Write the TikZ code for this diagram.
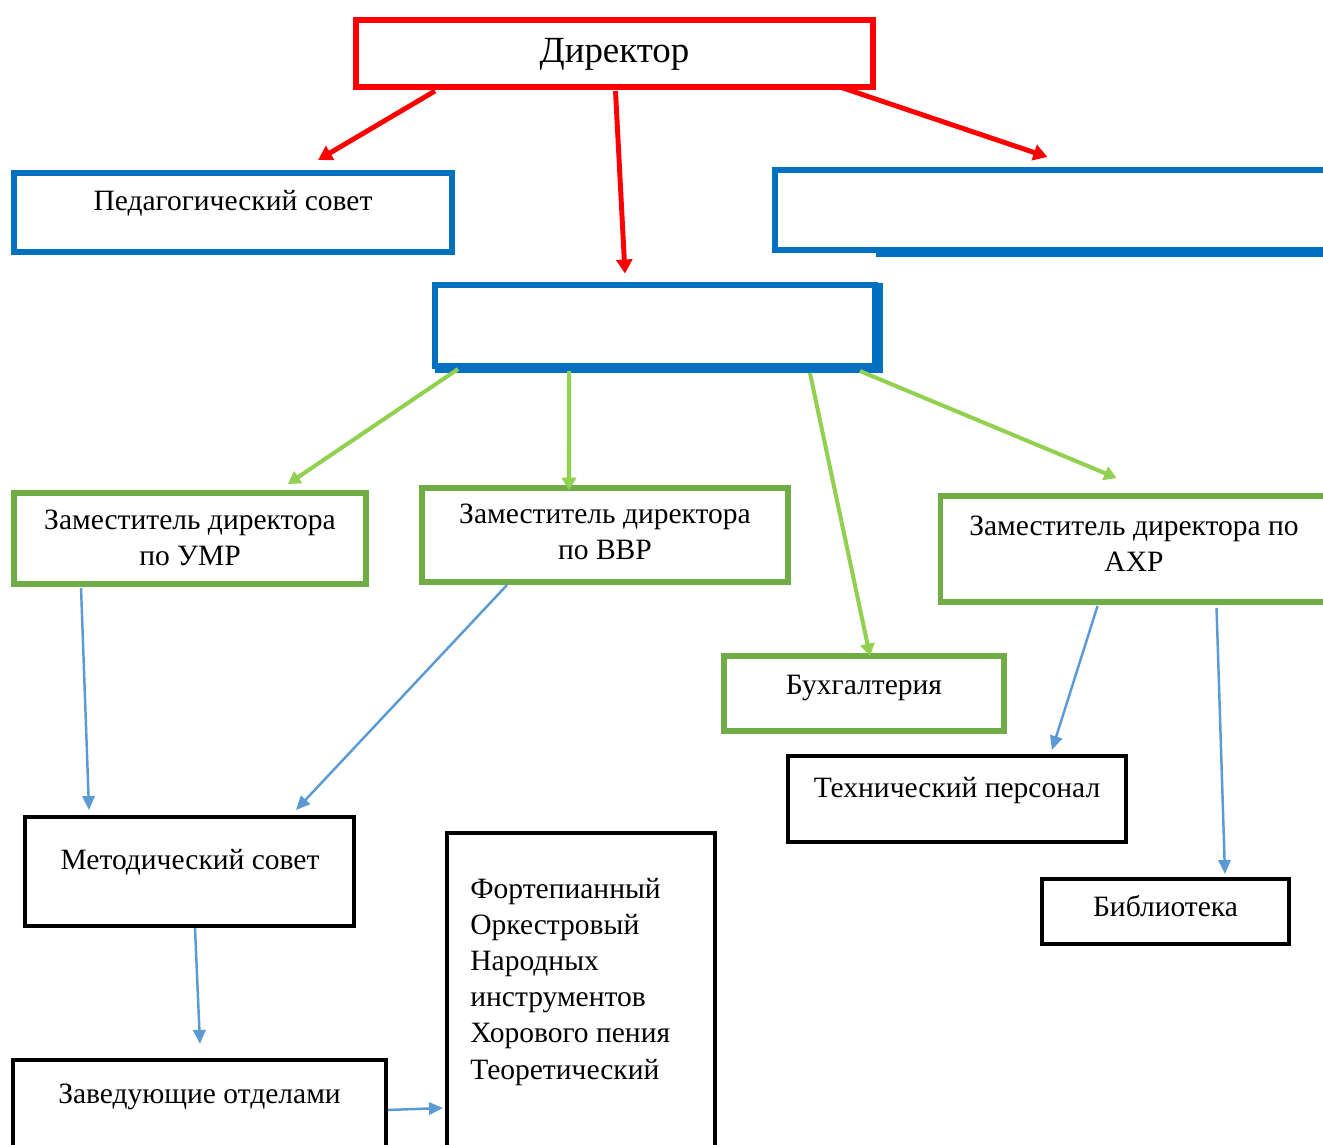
\documentclass[tikz,border=0pt]{standalone}
\usepackage{fontspec}
\setmainfont{Liberation Serif}
\usetikzlibrary{arrows.meta,calc}
\definecolor{cred}{RGB}{255,0,0}
\definecolor{cblue}{RGB}{0,112,192}
\definecolor{cgreen}{RGB}{112,173,71}
\definecolor{cgarrow}{RGB}{146,208,80}
\definecolor{cbarrow}{RGB}{91,155,213}
\begin{document}
\begin{tikzpicture}[x=0.02cm,y=-0.02cm,
  redbox/.style={draw=cred,line width=3.4pt,inner sep=0pt,outer sep=0pt},
  bluebox/.style={draw=cblue,line width=3.4pt,inner sep=0pt,outer sep=0pt},
  greenbox/.style={draw=cgreen,line width=2.9pt,inner sep=0pt,outer sep=0pt},
  blackbox/.style={draw=black,line width=2.3pt,inner sep=0pt,outer sep=0pt},
  lbl/.style={font=\fontsize{16.8}{20.6}\selectfont,inner sep=0pt,anchor=base},
  redarrow/.style={draw=cred,line width=2.8pt,-{Triangle[length=8pt,width=9pt]}},
  greenarrow/.style={draw=cgarrow,line width=2.3pt,-{Triangle[length=7pt,width=8pt]}},
  bluearrow/.style={draw=cbarrow,line width=1.4pt,-{Triangle[length=8pt,width=7pt]}}]
\useasboundingbox (0,0) rectangle (1323,1145);
\fill[white] (0,0) rectangle (1323,1145);
% boxes
\node[redbox,minimum width=10.34cm,minimum height=1.34cm] (dir) at (614.5,53.5) {};
\node[bluebox,minimum width=8.76cm,minimum height=1.58cm] (ped) at (233,212.5) {};
\node[bluebox,minimum width=11.1cm,minimum height=1.6cm] (rb) at (1052.5,210) {};
\node[bluebox,minimum width=8.8cm,minimum height=1.63cm] (mb) at (655,325.3) {};
\node[greenbox,minimum width=7.04cm,minimum height=1.82cm] (umr) at (190,538.5) {};
\node[greenbox,minimum width=7.32cm,minimum height=1.88cm] (vvr) at (605,535) {};
\node[greenbox,minimum width=7.9cm,minimum height=2.12cm] (axr) at (1138,549) {};
\node[greenbox,minimum width=5.6cm,minimum height=1.5cm] (buh) at (864,693.5) {};
\node[blackbox,minimum width=6.76cm,minimum height=1.72cm] (tech) at (957,799) {};
\node[blackbox,minimum width=4.94cm,minimum height=1.3cm] (bib) at (1165.5,911.5) {};
\node[blackbox,minimum width=6.58cm,minimum height=2.18cm] (met) at (189.5,871.5) {};
\node[blackbox,minimum width=7.46cm,minimum height=2.0cm] (zav) at (199.5,1110) {};
\node[blackbox,minimum width=5.36cm,minimum height=6.54cm] (tall) at (581,996.5) {};
% extra thick edges
\fill[cblue] ($(rb.south west)+(101,1)$) rectangle ($(rb.south east)+(0,7)$);
\fill[cblue] ($(mb.south west)+(0,0)$) rectangle ($(mb.south east)+(8,7)$);
\fill[cblue] ($(mb.north east)+(0,-2)$) rectangle ($(mb.south east)+(8,7)$);
% texts
\node[lbl,font=\fontsize{21}{24}\selectfont] (tdir) at (614.5,63) {Директор};
\node[lbl] (tped) at (233,211) {Педагогический совет};
\node[lbl,align=center] (tumr) at (190,566) {Заместитель директора\\по УМР};
\node[lbl,align=center] (tvvr) at (605,560) {Заместитель директора\\по ВВР};
\node[lbl,align=center] (taxr) at (1134,572) {Заместитель директора по\\АХР};
\node[lbl] (tbuh) at (864,694) {Бухгалтерия};
\node[lbl] (ttech) at (957,797) {Технический персонал};
\node[lbl] (tbib) at (1165.5,916) {Библиотека};
\node[lbl] (tmet) at (190,869) {Методический совет};
\node[lbl] (tzav) at (199.5,1103) {Заведующие отделами};
\node[lbl,align=left,anchor=base west,font=\fontsize{16.8}{20.6}\selectfont] (ttall) at (470,1079) {Фортепианный\\Оркестровый\\Народных\\инструментов\\Хорового пения\\Теоретический};
% red arrows
\draw[redarrow] ($(dir.south west)+(79,4)$) -- ($(ped.north west)+(304,-13)$);
\draw[redarrow] ($(dir.south)+(1,4)$) -- ($(mb.north)+(-30,-11)$);
\draw[redarrow] ($(dir.south east)+(-30,1)$) -- ($(rb.north)+(-5,-13)$);
% green arrows
\draw[greenarrow] ($(mb.south west)+(23,3)$) -- ($(umr.north)+(98,-9)$);
\draw[greenarrow] ($(mb.south west)+(134,5)$) -- ($(vvr.north)+(-36,2)$);
\draw[greenarrow] ($(mb.south east)+(-65,7)$) -- ($(buh.north)+(6,0)$);
\draw[greenarrow] ($(mb.south east)+(-15,5)$) -- ($(axr.north west)+(176,-18)$);
% blue arrows
\draw[bluearrow] ($(umr.south west)+(67,4)$) -- ($(met.north west)+(64,-7)$);
\draw[bluearrow] ($(vvr.south west)+(85,3)$) -- ($(met.north east)+(-58,-7)$);
\draw[bluearrow] ($(met.south)+(5.5,2)$) -- ($(zav.north)+(0.5,-16)$);
\draw[bluearrow] ($(zav.east)+(2,0)$) -- ($(tall.west)+(-4,111.5)$);
\draw[bluearrow] ($(axr.south west)+(157,4)$) -- ($(tech.north east)+(-74,-6)$);
\draw[bluearrow] ($(axr.south west)+(276,6)$) -- ($(bib.north)+(59.5,-5)$);
\end{tikzpicture}
\end{document}
